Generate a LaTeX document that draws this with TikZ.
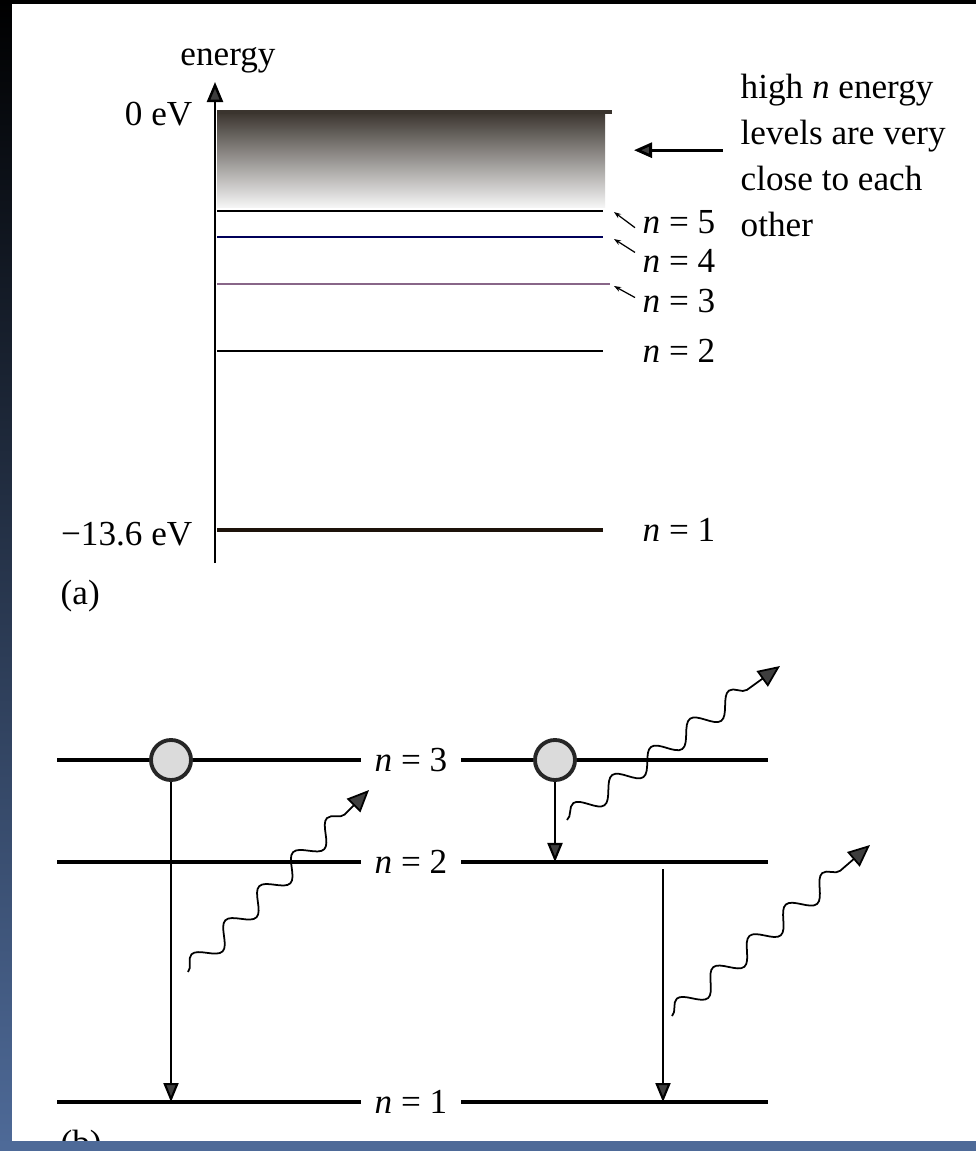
\documentclass[tikz,border=0pt]{standalone}
\usepackage{fontspec}
\setmainfont{Liberation Serif}
\usetikzlibrary{arrows.meta, positioning, calc, decorations.pathmorphing}
\definecolor{slideblue}{RGB}{78,106,152}
\definecolor{bandtop}{RGB}{58,52,46}
\definecolor{tipgray}{RGB}{62,62,62}

\begin{document}
\begin{tikzpicture}[x=0.01cm, y=-0.01cm,
    font=\fontsize{10}{13.1}\selectfont,
    txt/.style={inner sep=0pt},
    alevel/.style={line width=0.6pt},
    blevel/.style={line width=0.9pt},
    blabel/.style={inner xsep=0.13cm, inner ysep=0pt},
    drop/.style={line width=0.6pt, -{Triangle[length=0.19cm, width=0.15cm, fill=tipgray]}},
    pointer/.style={line width=0.35pt, -{Stealth[length=0.07cm, width=0.05cm]}},
    bigarrow/.style={line width=0.8pt, -{Triangle[length=0.18cm, width=0.15cm, fill=tipgray]}},
    photon/.style={line width=0.5pt, -{Triangle[length=0.22cm, width=0.19cm, fill=tipgray]},
        decorate, decoration={snake, amplitude=0.1cm, segment length=0.48cm, post length=0.2cm}},
    electron/.style={circle, draw=black!85, line width=1.1pt, fill=black!14, minimum size=0.4cm, inner sep=0pt}
]
    \useasboundingbox (0,0) rectangle (976,1151);
    % slide frame
    \shade[top color=black, middle color=black, bottom color=slideblue] (0,0) rectangle (976,1151);
    \fill[white] (12,4) rectangle (976,1141);

    % (a) energy levels
    \shade[top color=bandtop, bottom color=black!4] (217,112) rectangle (605,207);
    \draw[line width=1.1pt, bandtop] (217,112) -- (612,112);
    \draw[alevel] (217,211) -- (603,211);
    \draw[alevel, blue!35!black] (217,237) -- (603,237);
    \draw[alevel, black!55!violet!60] (217,284) -- (610,284);
    \draw[alevel] (217,351) -- (603,351);
    \draw[line width=1.3pt, black!85!brown] (217,530) -- (603,530);
    \coordinate (base) at (215,563);
    \coordinate (top) at (215,82);
    \draw[line width=0.7pt, -{Triangle[length=0.2cm, width=0.16cm, fill=tipgray]}] (base) -- (top);

    \node[txt, anchor=base] (energy) at (228,65) {energy};
    \node[txt, anchor=base east] (zero) at (193,125) {0 eV};
    \node[txt, anchor=base east] (lowest) at (193,545) {−13.6 eV};
    \node[txt, anchor=base west] (panela) at (60,604) {(a)};

    \node[txt, anchor=base west] (a5) at (642,233) {\textit{n} = 5};
    \node[txt, anchor=base west] (a4) at (642,272) {\textit{n} = 4};
    \node[txt, anchor=base west] (a3) at (642,312) {\textit{n} = 3};
    \node[txt, anchor=base west] (a2) at (642,362) {\textit{n} = 2};
    \node[txt, anchor=base west] (a1) at (642,541) {\textit{n} = 1};
    \coordinate (t5) at (614,212);
    \coordinate (t4) at (614,239);
    \coordinate (t3) at (614,286);
    \draw[pointer] ([xshift=-0.07cm, yshift=-0.06cm]a5.west) -- (t5);
    \draw[pointer] ([xshift=-0.07cm, yshift=0.08cm]a4.west) -- (t4);
    \draw[pointer] ([xshift=-0.07cm, yshift=0.03cm]a3.west) -- (t3);

    \node[txt, anchor=north west, align=left] (note) at (740,73)
        {high \textit{n} energy\\levels are very\\close to each\\other};
    \draw[bigarrow] ([xshift=-0.17cm, yshift=0.05cm]note.west) -- ++(-89,0);

    % (b) transitions
    \foreach \k/\y in {3/760, 2/862, 1/1102} {
        \node[blabel] (b\k) at (411,\y) {\textit{n} = \k};
        \coordinate (bl\k) at (57,\y);
        \coordinate (br\k) at (768,\y);
        \draw[blevel] (bl\k) -- (b\k) -- (br\k);
    }
    \node[electron] (e1) at (171,760) {};
    \node[electron] (e2) at (555,760) {};
    \coordinate (jump) at (663,869);
    \draw[drop] (e1.south) -- (e1.south |- bl1);
    \draw[drop] (e2.south) -- (e2.south |- br2);
    \draw[drop] (jump) -- (jump |- br1);

    \coordinate (p1s) at (188,972);  \coordinate (p1e) at (369,790);
    \coordinate (p2s) at (567,820);  \coordinate (p2e) at (780,666);
    \coordinate (p3s) at (672,1016); \coordinate (p3e) at (870,845);
    \draw[photon] (p1s) -- (p1e);
    \draw[photon] (p2s) -- (p2e);
    \draw[photon] (p3s) -- (p3e);

    \node[txt, anchor=base west] (panelb) at (60,1154) {(b)};
    \fill[slideblue] (0,1141) rectangle (976,1151);
\end{tikzpicture}
\end{document}
